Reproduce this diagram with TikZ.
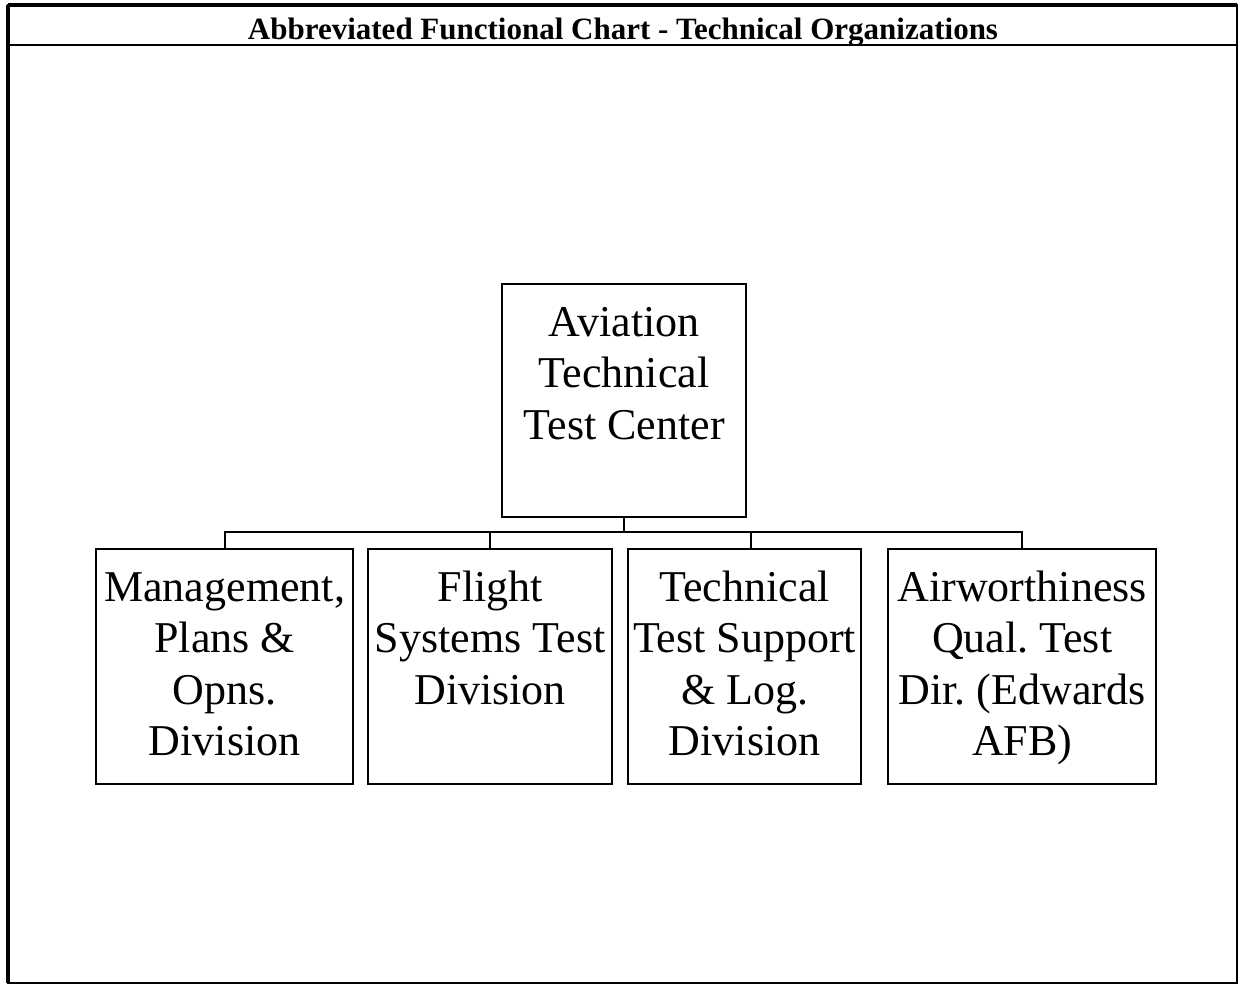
\documentclass[tikz,border=0pt]{standalone}
\usepackage{fontspec}
\setmainfont{Liberation Serif}
\frenchspacing
% Box contents: fixed-size top-aligned block, first baseline 52pt below the top
\newcommand{\orgtext}[3]{%
  \begin{minipage}[t][#2pt][t]{#1pt}\centering
    \fontsize{44}{51.5}\selectfont\rule{0pt}{52pt}#3%
  \end{minipage}}
\begin{document}
\begin{tikzpicture}[x=1pt,y=-1pt,
  orgbox/.style={draw,line width=2.3pt,inner sep=0pt,anchor=north west},
  conn/.style={line width=2.2pt},
  frame/.style={line width=2.5pt},
  titletext/.style={font=\fontsize{31}{31}\selectfont\bfseries,inner sep=0pt,anchor=base}]
\useasboundingbox (0,0) rectangle (1239,986);

% outer frame and title bar
\draw[frame] (8,5) rectangle (1237,983);
\draw[line width=4pt] (8,5) -- (8,983);
\draw[line width=3.5pt] (8,5) -- (1237,5);
\draw[frame] (8,45) -- (1237,45);
\node[titletext] (title) at (623,39) {Abbreviated Functional Chart - Technical Organizations};

% head office
\node[orgbox] (atc) at (501,283) {\orgtext{244}{233}{Aviation\\Technical\\Test Center}};

% divisions
\node[orgbox] (d1) at (95,548) {\orgtext{257}{235}{Management,\\Plans \&\\Opns.\\Division}};
\node[orgbox] (d2) at (367,548) {\orgtext{244}{235}{Flight\\Systems Test\\Division}};
\node[orgbox] (d3) at (627,548) {\orgtext{233}{235}{Technical\\Test Support\\\& Log.\\Division}};
\node[orgbox] (d4) at (887,548) {\orgtext{268}{235}{Airworthiness\\Qual. Test\\Dir. (Edwards\\AFB)}};

% connectors: trunk down to a common bus, then drops to each division
\draw[conn] (atc.south) -- ++(0,14) coordinate (bus);
\draw[conn] (bus) -| (d1.north);
\draw[conn] (bus) -| (d2.north);
\draw[conn] (bus) -| ([xshift=6pt]d3.north);
\draw[conn] (bus) -| (d4.north);
\end{tikzpicture}
\end{document}
